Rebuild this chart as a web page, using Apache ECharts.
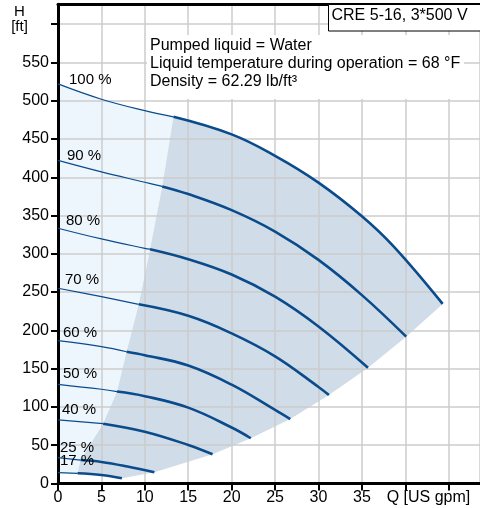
<!DOCTYPE html>
<html>
<head>
<meta charset="utf-8">
<script src="https://cdn.jsdelivr.net/npm/echarts@6/dist/echarts.min.js"></script>
<style>
  * { margin: 0; padding: 0; }
  #main { width: 480px; height: 508px; }
</style>
</head>
<body>
<div id="main"></div>
<script>
// speed curves, [Q US gpm, H ft]
var speeds = ['100 %', '90 %', '80 %', '70 %', '60 %', '50 %', '40 %', '25 %', '17 %'];
var c100 = [[0, 522], [5, 502], [10, 487], [13.3, 479], [20, 456], [25, 428], [30, 393], [35, 349], [38.7, 309], [44.3, 234.5]];
var c90 = [[0, 422], [5, 407], [10, 393.5], [12, 388], [15, 378], [20, 357], [25, 329], [30, 292], [35, 246], [40.1, 191.7]];
var c80 = [[0, 333.4], [5, 319.4], [10, 307.2], [10.6, 306], [15, 293], [20, 273], [25, 244], [30, 205], [35.7, 151]];
var c70 = [[0, 255], [5, 244], [9.3, 234], [15, 219], [20, 196], [25, 166], [30, 126], [31.2, 115.5]];
var c60 = [[0, 186.5], [5, 178.7], [7.9, 172], [10, 167.5], [15, 154], [20, 129], [25, 96], [26.75, 84]];
var c50 = [[0, 129.5], [5, 123], [6.8, 120], [10, 114], [15, 99], [20, 73], [22.2, 59]];
var c40 = [[0, 83], [5.2, 78], [10, 67.6], [15, 50.2], [17.8, 38]];
var c25 = [[0, 33.6], [2.6, 30.5], [5, 28], [8, 22], [11.1, 14.5]];
var c17 = [[0, 14], [2.25, 13.2], [5, 11], [7.36, 6.7]];
var curves = [c100, c90, c80, c70, c60, c50, c40, c25, c17];
// flow where each curve turns thick (edge of the shaded area)
var thickStart = [13.3, 12, 10.6, 9.3, 7.9, 6.8, 5.2, 2.6, 2.25];

var infoLines = ['Pumped liquid = Water', 'Liquid temperature during operation = 68 \u00b0F', 'Density = 62.29 lb/ft\u00b3'];
var pumpName = 'CRE 5-16, 3*500 V';

var lineColor = '#0a4b8c';
var font = 'Liberation Sans, Arial, sans-serif';
var labelOffset = [[11, -4], [9, -5], [8, -7], [7, -8], [5, -8], [5, -10], [4, -10], [2, -10], [2, -12]];

var thin = curves.map(function (c, i) {
    return c.filter(function (p) { return p[0] <= thickStart[i]; });
});
var thick = curves.map(function (c, i) {
    return c.filter(function (p) { return p[0] >= thickStart[i]; });
});
var minFlow = thick.map(function (t) { return t[0]; });
var maxFlow = curves.map(function (c) { return c[c.length - 1]; });

// light area: left of min flow line, under 100 %, above 17 %
var lightPoly = [].concat(thin[0], minFlow.slice(1), thin[8].slice().reverse());
// shaded area: operating range
var grayPoly = [].concat(thick[0], maxFlow.slice(1), thick[8].slice().reverse(), minFlow.slice(0, 8).reverse());

function polySeries(pts, color) {
    return {
        type: 'custom',
        silent: true,
        z: 1,
        data: [[0, 0]],
        renderItem: function (params, api) {
            return {
                type: 'polygon',
                shape: { points: pts.map(function (p) { return api.coord(p); }) },
                style: { fill: color }
            };
        }
    };
}

var series = [polySeries(lightPoly, '#eef6fd'), polySeries(grayPoly, '#d0dce8')];
curves.forEach(function (c, i) {
    series.push({
        type: 'line', data: thin[i], smooth: 0.4, showSymbol: false, silent: true, z: 3,
        lineStyle: { color: lineColor, width: 1.2 }
    });
    series.push({
        type: 'line', data: thick[i], smooth: 0.4, showSymbol: false, silent: true, z: 3,
        lineStyle: { color: lineColor, width: 2.6 }
    });
});
series.push({
    type: 'scatter',
    symbolSize: 0,
    silent: true,
    z: 4,
    itemStyle: { opacity: 1 },
    data: curves.map(function (c, i) { return { value: c[0], name: speeds[i], label: { offset: labelOffset[i] } }; }),
    label: {
        show: true, position: 'right', distance: 0, formatter: '{b}',
        color: '#000', opacity: 1, fontSize: 15, fontFamily: font
    }
});

var myChart = echarts.init(document.getElementById('main'));
myChart.setOption({
    animation: false,
    grid: { left: 58, right: 0, top: 4.3, bottom: 24.6 },
    xAxis: [{
        type: 'value', min: 0, max: 48.6, interval: 5, z: 2,
        axisLine: { lineStyle: { color: '#000', width: 3 } },
        axisTick: { length: 7, lineStyle: { color: '#000', width: 2 } },
        axisLabel: {
            margin: 6, color: '#000', fontSize: 16, fontFamily: font, showMaxLabel: false,
            formatter: function (v) { return v >= 40 ? '' : v; }
        },
        splitLine: { lineStyle: { color: '#cccccc', width: 1.5 } }
    }, {
        type: 'value', min: 0, max: 48.6, position: 'top', z: 2,
        axisLine: { lineStyle: { color: '#000', width: 3 } },
        axisTick: { show: false }, axisLabel: { show: false }, splitLine: { show: false }
    }],
    yAxis: {
        type: 'value', min: 0, max: 626, interval: 50, z: 2,
        axisLine: { show: true, lineStyle: { color: '#000', width: 3 } },
        axisTick: { show: true, length: 7, lineStyle: { color: '#000', width: 2 } },
        axisLabel: {
            margin: 9, color: '#000', fontSize: 16, fontFamily: font, showMaxLabel: false,
            formatter: function (v) { return v >= 600 ? '' : v; }
        },
        splitLine: { lineStyle: { color: '#cccccc', width: 1.5 } }
    },
    graphic: [
        { type: 'rect', left: 147, top: 35, z: 10, shape: { width: 317, height: 64 }, style: { fill: '#fff' } },
        { type: 'text', x: 150, y: 46, z: 11, style: { text: infoLines[0], font: '16px ' + font, fill: '#000', verticalAlign: 'middle' } },
        { type: 'text', x: 150, y: 64, z: 11, style: { text: infoLines[1], font: '16px ' + font, fill: '#000', verticalAlign: 'middle' } },
        { type: 'text', x: 150, y: 82, z: 11, style: { text: infoLines[2], font: '16px ' + font, fill: '#000', verticalAlign: 'middle' } },
        { type: 'rect', x: 328.5, y: 4.5, z: 10, shape: { width: 160, height: 26.5 }, style: { fill: '#fff', stroke: '#000', lineWidth: 1 } },
        { type: 'text', x: 331.5, y: 16, z: 11, style: { text: pumpName, font: '16px ' + font, fill: '#000', verticalAlign: 'middle' } },
        { type: 'text', x: 19.5, y: 19, z: 11, style: { text: 'H\n[ft]', font: '15px ' + font, fill: '#000', align: 'center', verticalAlign: 'middle', lineHeight: 15 } },
        { type: 'text', x: 386.7, y: 498, z: 11, style: { text: 'Q [US gpm]', font: '16px ' + font, fill: '#000', verticalAlign: 'middle' } }
    ],
    series: series
});
</script>
</body>
</html>
